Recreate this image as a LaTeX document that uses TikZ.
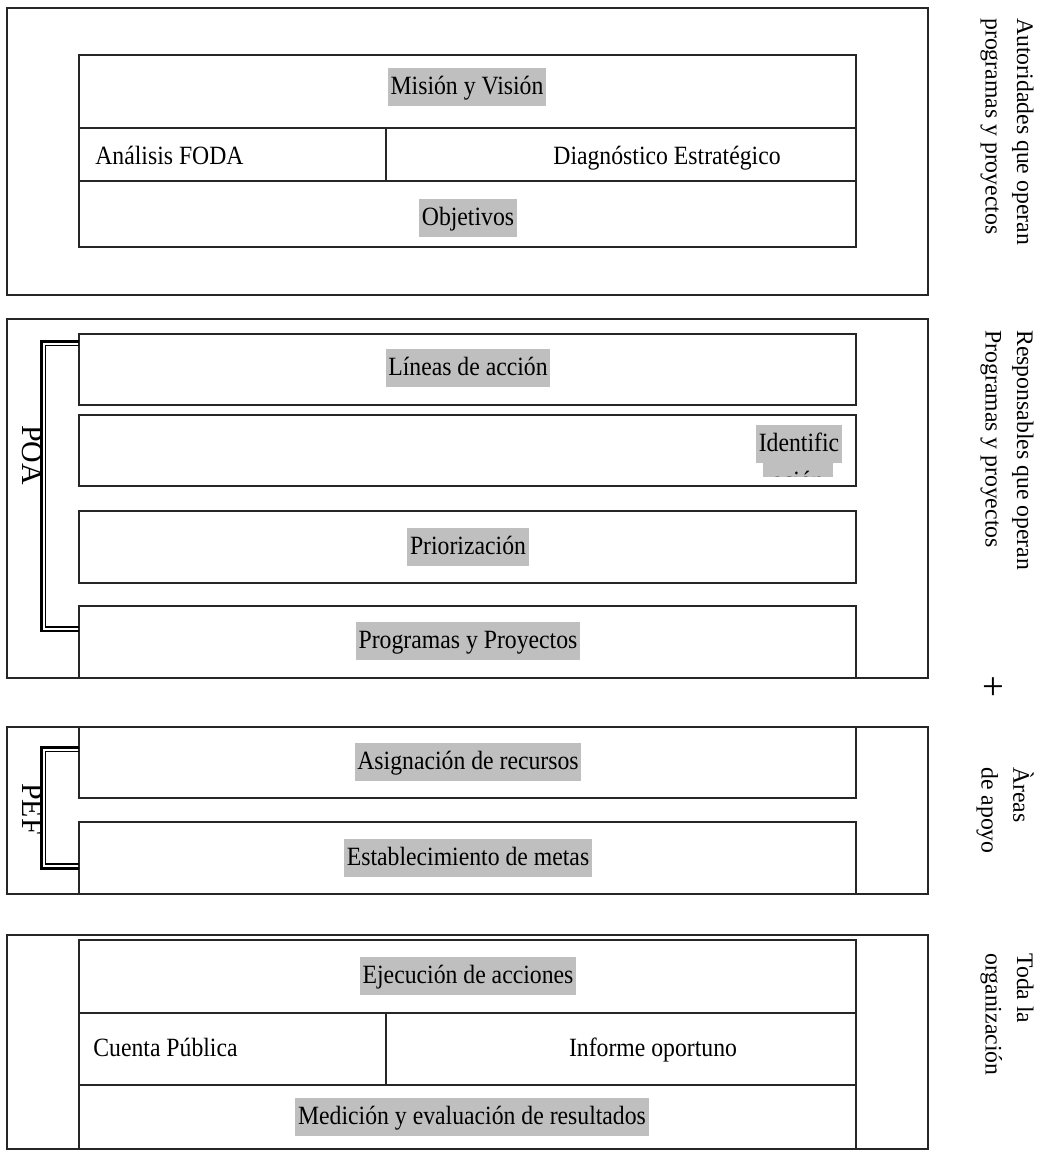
\documentclass[tikz,border=0pt]{standalone}
\usepackage{fontspec}
\setmainfont{Liberation Serif}
\newfontfamily\narrowfont{Liberation Serif}[FakeStretch=0.9]
\usetikzlibrary{positioning}

\begin{document}
\begin{tikzpicture}[x=0.02cm, y=-0.02cm,
    frame/.style={line width=1pt, draw=black!85},
    hilite/.style={fill=gray!50, inner xsep=1.5pt, inner ysep=0pt, text height=0.53cm, text depth=0.23cm, font=\narrowfont\fontsize{15}{18}\selectfont},
    plain/.style={inner sep=0pt, text height=0.53cm, text depth=0.23cm, font=\narrowfont\fontsize{15}{18}\selectfont},
    sidelabel/.style={rotate=-90, anchor=north west, align=left, inner sep=0pt, font=\fontsize{13.5}{18}\selectfont},
    tag/.style={rotate=-90, inner sep=0pt, font=\fontsize{17}{20}\selectfont},
    brackout/.style={line width=1.7pt},
    brackin/.style={line width=0.6pt}]
    % page and margins
    \fill[white] (0,0) rectangle (1045,1152);
    \useasboundingbox (0,0) rectangle (1045,1152);

    % =========================================================
    % BLOCK 1: strategic planning
    % =========================================================
    \draw[frame] (7,8) rectangle (928,295);
    \draw[frame] (79,55) rectangle (856,128);
    \draw[frame] (79,128) rectangle (386,181);
    \draw[frame] (386,128) rectangle (856,181);
    \draw[frame] (79,181) rectangle (856,247);
    \node[hilite] (mision) at (467,87) {Misión y Visión};
    \node[plain, anchor=west] (foda) at (95,157) {Análisis FODA};
    \node[plain] (diag) at (667,157) {Diagnóstico Estratégico};
    \node[hilite] (objetivos) at (468,218) {Objetivos};

    % =========================================================
    % BLOCK 2: POA
    % =========================================================
    \draw[frame] (7,319) rectangle (928,678);
    \draw[frame] (79,334) rectangle (856,405);
    \draw[frame] (79,415) rectangle (856,486);
    \draw[frame] (79,511) rectangle (856,583);
    \draw[frame] (79,606) rectangle (856,678);
    \node[hilite] (lineas) at (468,368) {Líneas de acción};
    % text cut off by its frame
    \begin{scope}
        \clip (79,415) rectangle (856,476);
        \node[hilite] (ident) at (799,444) {Identific};
        \node[hilite, minimum width=1.4cm] (identb) at (798,482) {ación};
    \end{scope}
    \node[hilite] (prior) at (468,547) {Priorización};
    \node[hilite] (progs) at (468,641) {Programas y Proyectos};

    \node[tag] (poa) at (32,455) {POA};
    \coordinate (poa top) at (79,341.5);
    \coordinate (poa bot) at (79,631);
    \coordinate (poa topin) at (79,345.5);
    \coordinate (poa botin) at (79,627);
    \draw[brackout] (poa top) -- ++(-37.5,0) |- (poa bot);
    \draw[brackin] (poa topin) -- ++(-33.5,0) |- (poa botin);

    % =========================================================
    % BLOCK 3: PEF
    % =========================================================
    \draw[frame] (7,727) rectangle (928,894);
    \draw[frame] (79,727) rectangle (856,798);
    \draw[frame] (79,822) rectangle (856,894);
    \node[hilite] (asig) at (468,762) {Asignación de recursos};
    \node[hilite] (metas) at (468,858) {Establecimiento de metas};

    \node[tag] (pef) at (32,809) {PEF};
    \coordinate (pef top) at (79,747.5);
    \coordinate (pef bot) at (79,868);
    \coordinate (pef topin) at (79,751.5);
    \coordinate (pef botin) at (79,864);
    \draw[brackout] (pef top) -- ++(-37.5,0) |- (pef bot);
    \draw[brackin] (pef topin) -- ++(-33.5,0) |- (pef botin);

    % =========================================================
    % BLOCK 4: execution and evaluation
    % =========================================================
    \draw[frame] (7,935) rectangle (928,1149);
    \draw[frame] (79,940) rectangle (856,1013);
    \draw[frame] (79,1013) rectangle (386,1085);
    \draw[frame] (386,1013) rectangle (856,1085);
    \draw[frame] (79,1085) rectangle (856,1149);
    \node[hilite] (ejec) at (468,976) {Ejecución de acciones};
    \node[plain, anchor=west] (cuenta) at (93,1049) {Cuenta Pública};
    \node[plain] (informe) at (653,1049) {Informe oportuno};
    \node[hilite] (medicion) at (472,1117) {Medición y evaluación de resultados};

    % =========================================================
    % Side labels
    % =========================================================
    \node[sidelabel] (autor) at (1034,18) {Autoridades que operan\\programas y proyectos};
    \node[sidelabel] (resp) at (1034,330) {Responsables que operan\\Programas y proyectos};
    \node[inner sep=0pt, font=\fontsize{22}{24}\selectfont] (plus) at (993,689) {+};
    \node[sidelabel] (areas) at (1034,767) {Àreas\\de apoyo};
    \node[sidelabel] (toda) at (1034,953) {Toda la\\organización};
\end{tikzpicture}
\end{document}
